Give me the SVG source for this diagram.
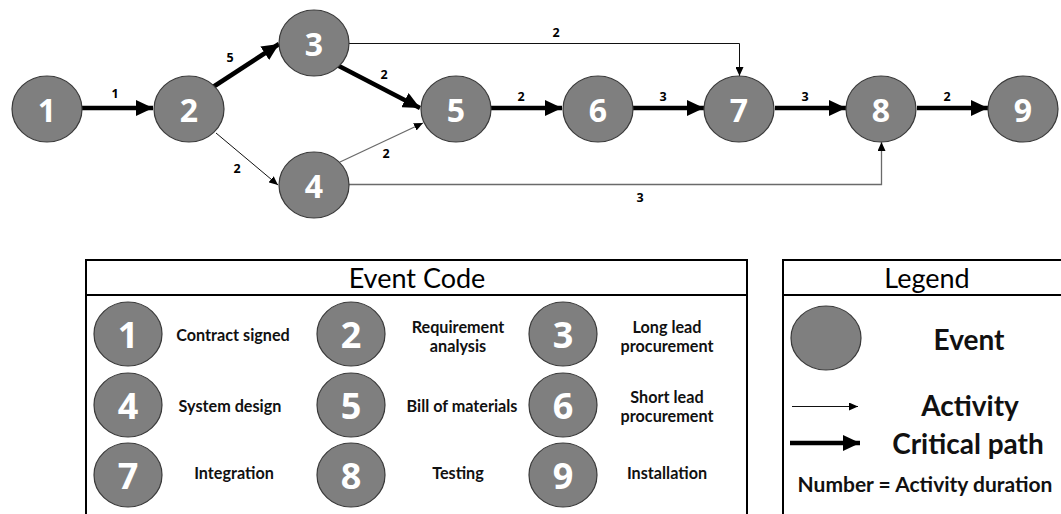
<svg xmlns="http://www.w3.org/2000/svg" width="1061" height="514" viewBox="0 0 1061 514">
<defs>
<style>
.node{fill:#7f7f7f;stroke:#3a3a3a;stroke-width:1.2}
.nt{font-family:"Open Sans","Liberation Sans",sans-serif;font-weight:bold;fill:#fff;text-anchor:middle;dominant-baseline:central}
.big{font-size:32px}
.sm{font-size:36px}
.lbl{font-family:"Open Sans","Liberation Sans",sans-serif;font-weight:bold;font-size:12.5px;fill:#000;text-anchor:middle;dominant-baseline:central}
.desc{font-family:Lato,"Open Sans",sans-serif;font-weight:bold;font-size:16.2px;fill:#111;text-anchor:middle;dominant-baseline:central}
.title{font-family:Lato,"Open Sans",sans-serif;font-size:27px;fill:#000;text-anchor:middle;dominant-baseline:central}
.leg{font-family:Lato,"Open Sans",sans-serif;font-weight:bold;font-size:28px;fill:#111;text-anchor:middle;dominant-baseline:central}
.thick{stroke:#000;stroke-width:4.5;fill:none;marker-end:url(#ah)}
.thin{stroke:#111;stroke-width:1;fill:none;marker-end:url(#at)}
.thing{stroke:#6a6a6a;stroke-width:1.3;fill:none;marker-end:url(#at)}
.box{fill:#fff;stroke:#000;stroke-width:2}
</style>
<marker id="ah" markerUnits="userSpaceOnUse" markerWidth="18" markerHeight="16" refX="17" refY="8" orient="auto"><path d="M0,0 L17,8 L0,16 z" fill="#000"/></marker>
<marker id="at" markerUnits="userSpaceOnUse" markerWidth="10" markerHeight="8" refX="9" refY="4" orient="auto"><path d="M0,0 L9,4 L0,8 z" fill="#000"/></marker>
</defs>

<g id="connectors">
<line class="thick" x1="82" y1="108" x2="153" y2="108"/>
<line class="thick" x1="213" y1="87" x2="279" y2="44"/>
<line class="thin" x1="216" y1="133" x2="278" y2="185"/>
<line class="thick" x1="337" y1="65" x2="420" y2="108"/>
<line class="thing" x1="340" y1="162" x2="423" y2="123"/>
<path class="thin" d="M349,43.5 H739.5 V76"/>
<path class="thing" d="M349,184.5 H881.5 V142"/>
<line class="thick" x1="491" y1="108" x2="562" y2="108"/>
<line class="thick" x1="633" y1="108" x2="704" y2="108"/>
<line class="thick" x1="775" y1="108" x2="846" y2="108"/>
<line class="thick" x1="917" y1="108" x2="988" y2="108"/>
<text class="lbl" x="115" y="93">1</text>
<text class="lbl" x="230" y="57">5</text>
<text class="lbl" x="237" y="168">2</text>
<text class="lbl" x="384" y="74">2</text>
<text class="lbl" x="386" y="153">2</text>
<text class="lbl" x="556" y="32">2</text>
<text class="lbl" x="640" y="197">3</text>
<text class="lbl" x="521" y="96">2</text>
<text class="lbl" x="663" y="96">3</text>
<text class="lbl" x="805" y="96">3</text>
<text class="lbl" x="947" y="96">2</text>
</g>

<g id="n1"><ellipse class="node" cx="47" cy="109" rx="35" ry="33"/><text class="nt big" x="47" y="109">1</text></g>
<g id="n2"><ellipse class="node" cx="189" cy="109" rx="35" ry="33"/><text class="nt big" x="189" y="109">2</text></g>
<g id="n3"><ellipse class="node" cx="314" cy="43" rx="35" ry="33"/><text class="nt big" x="314" y="43">3</text></g>
<g id="n4"><ellipse class="node" cx="314" cy="185" rx="35" ry="33"/><text class="nt big" x="314" y="185">4</text></g>
<g id="n5"><ellipse class="node" cx="456" cy="109" rx="35" ry="33"/><text class="nt big" x="456" y="109">5</text></g>
<g id="n6"><ellipse class="node" cx="598" cy="109" rx="35" ry="33"/><text class="nt big" x="598" y="109">6</text></g>
<g id="n7"><ellipse class="node" cx="739" cy="109" rx="35" ry="33"/><text class="nt big" x="739" y="109">7</text></g>
<g id="n8"><ellipse class="node" cx="881" cy="109" rx="35" ry="33"/><text class="nt big" x="881" y="109">8</text></g>
<g id="n9"><ellipse class="node" cx="1023" cy="109" rx="35" ry="33"/><text class="nt big" x="1023" y="109">9</text></g>

<g id="event-code">
<rect class="box" x="86" y="260" width="661" height="270"/>
<line x1="86" y1="295" x2="747" y2="295" stroke="#000" stroke-width="2"/>
<text class="title" x="417" y="277">Event Code</text>
<ellipse class="node" cx="128" cy="334" rx="34" ry="32"/><text class="nt sm" x="128" y="334">1</text>
<text class="desc" x="233" y="334">Contract signed</text>
<ellipse class="node" cx="351" cy="334" rx="34" ry="32"/><text class="nt sm" x="351" y="334">2</text>
<text class="desc" x="458" y="326">Requirement</text><text class="desc" x="458" y="345">analysis</text>
<ellipse class="node" cx="563" cy="334" rx="34" ry="32"/><text class="nt sm" x="563" y="334">3</text>
<text class="desc" x="667" y="326">Long lead</text><text class="desc" x="667" y="345">procurement</text>
<ellipse class="node" cx="128" cy="405" rx="34" ry="32"/><text class="nt sm" x="128" y="405">4</text>
<text class="desc" x="230" y="405">System design</text>
<ellipse class="node" cx="351" cy="405" rx="34" ry="32"/><text class="nt sm" x="351" y="405">5</text>
<text class="desc" x="462" y="405">Bill of materials</text>
<ellipse class="node" cx="563" cy="405" rx="34" ry="32"/><text class="nt sm" x="563" y="405">6</text>
<text class="desc" x="667" y="396">Short lead</text><text class="desc" x="667" y="415">procurement</text>
<ellipse class="node" cx="128" cy="475" rx="34" ry="32"/><text class="nt sm" x="128" y="475">7</text>
<text class="desc" x="234" y="472">Integration</text>
<ellipse class="node" cx="351" cy="475" rx="34" ry="32"/><text class="nt sm" x="351" y="475">8</text>
<text class="desc" x="458" y="472">Testing</text>
<ellipse class="node" cx="563" cy="475" rx="34" ry="32"/><text class="nt sm" x="563" y="475">9</text>
<text class="desc" x="667" y="472">Installation</text>
</g>

<g id="legend">
<rect class="box" x="783" y="260" width="300" height="270"/>
<line x1="783" y1="295" x2="1070" y2="295" stroke="#000" stroke-width="2"/>
<text class="title" x="927" y="277">Legend</text>
<ellipse class="node" cx="826" cy="338" rx="35" ry="32"/>
<text class="leg" x="969" y="339">Event</text>
<line class="thin" x1="792" y1="406.5" x2="858" y2="406.5"/>
<text class="leg" x="970" y="405">Activity</text>
<line class="thick" x1="790" y1="443" x2="860" y2="443"/>
<text class="leg" x="968" y="443">Critical path</text>
<text class="desc" x="925" y="483" style="font-size:21px">Number = Activity duration</text>
</g>
</svg>
